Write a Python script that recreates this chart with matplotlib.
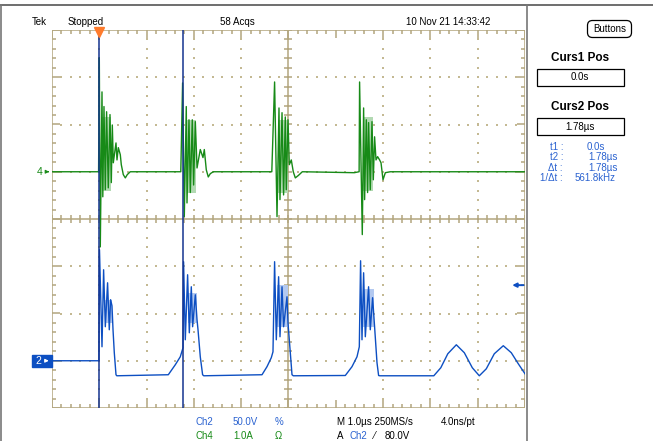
import numpy as np
import matplotlib.pyplot as plt
from matplotlib.patches import Rectangle, FancyBboxPatch
from matplotlib.collections import LineCollection

plt.rcParams['font.family'] = ['Liberation Sans', 'DejaVu Sans']

# Ch2 voltage trace (time in us, volts)
ch2_t = [-1.0, -0.015, -0.008, 0.004, 0.057, 0.091, 0.127, 0.175, 0.211, 0.239, 0.268, 0.290,
         0.317, 0.353, 0.370, 1.459, 1.607, 1.712, 1.770, 1.782, 1.818, 1.867, 1.903, 1.945,
         1.973, 2.030, 2.066, 2.087, 2.135, 2.184, 2.209, 3.440, 3.545, 3.636, 3.672, 3.706,
         3.742, 3.791, 3.820, 3.863, 3.896, 3.968, 3.989, 4.017, 4.074, 4.101, 5.201, 5.342,
         5.448, 5.497, 5.524, 5.554, 5.588, 5.624, 5.693, 5.729, 5.778, 5.820, 5.871, 5.905,
         5.930, 7.072, 7.220, 7.368, 7.548, 7.717, 7.886, 8.034, 8.182, 8.351, 8.541, 8.710,
         8.858, 9.0]
ch2_v = [0.0, 0.0, 0.0, 117.5, 14.8, 96.3, 36.0, 82.5, 32.8, 64.6, 58.2, 32.8,
         8.5, -14.8, -15.9, -14.8, -4.2, 4.2, 13.8, 104.8, 22.2, 91.0, 29.6, 78.3,
         36.0, 69.8, 43.4, 32.8, 4.2, -14.8, -15.9, -14.8, -6.3, 3.2, 9.5, 104.8,
         22.2, 88.9, 25.4, 78.3, 36.0, 67.7, 40.2, 22.2, -14.8, -15.9, -15.6, -6.3,
         4.2, 14.8, 105.8, 22.2, 93.1, 25.4, 78.3, 32.8, 66.7, 36.0, -2.1, -15.6,
         -15.9, -15.9, -7.4, 7.4, 16.9, 8.5, -7.4, -15.9, -8.5, 7.4, 15.9, 8.5,
         -3.2, -13.8]

# Ch4 current trace (time in us, amps)
ch4_t = [-1.0, -0.015, 0.0, 0.021, 0.057, 0.074, 0.099, 0.127, 0.154, 0.190, 0.226, 0.254,
         0.275, 0.296, 0.353, 0.374, 0.402, 0.444, 0.465, 0.507, 0.550, 0.592, 0.655,
         1.723, 1.761, 1.797, 1.839, 1.854, 1.896, 1.924, 1.966, 1.994, 2.030, 2.066, 2.135,
         2.192, 2.220, 2.262, 2.304, 2.347, 2.410,
         3.647, 3.706, 3.757, 3.799, 3.820, 3.863, 3.896, 3.932, 3.953, 3.989, 4.017, 4.059,
         4.101, 4.144, 4.207, 4.292,
         5.391, 5.493, 5.503, 5.560, 5.588, 5.609, 5.645, 5.672, 5.693, 5.729, 5.765, 5.793,
         5.820, 5.850, 5.884, 5.926, 5.956, 5.998, 6.047, 6.152, 9.0]
ch4_a = [0.0, 0.0, 2.41, -1.59, 1.69, -0.53, 1.38, -0.38, 1.27, -0.34, 1.21, -0.23,
         0.99, 0.19, 0.61, 0.25, 0.51, 0.36, 0.15, -0.06, -0.13, -0.06, 0.0,
         0.0, 1.88, -0.95, 1.38, -0.66, 1.10, -0.44, 1.10, -0.28, 1.06, 0.08, 0.47,
         0.30, 0.47, 0.04, -0.11, -0.04, 0.0,
         0.0, 1.90, -0.95, 1.35, -0.59, 1.25, -0.49, 1.16, -0.38, 1.10, 0.15, 0.25,
         0.0, -0.13, -0.08, 0.0,
         -0.02, 0.0, 1.90, -1.33, 1.35, -0.59, 1.10, -0.44, 1.04, -0.38, 1.06, -0.17,
         0.74, 0.25, 0.32, 0.25, 0.19, -0.17, -0.02, 0.0, 0.0]

# persistence haze inside each ringing burst: t start, t end, top, bottom
ch2_haze_t0 = [0.120, 1.875, 3.760, 5.575]
ch2_haze_t1 = [0.260, 2.070, 3.990, 5.800]
ch2_haze_hi = [64.0, 72.0, 80.0, 76.0]
ch2_haze_lo = [40.0, 40.0, 36.0, 36.0]
ch4_haze_t0 = [0.060, 1.850, 3.770, 5.580]
ch4_haze_t1 = [0.250, 2.050, 3.980, 5.790]
ch4_haze_hi = [1.15, 1.10, 1.10, 1.15]
ch4_haze_lo = [-0.40, -0.45, -0.45, -0.40]

ch2_scale, ch2_pos = 50.0, -3.0   # V/div, divisions
ch4_scale, ch4_pos = 1.0, 1.0     # A/div, divisions
trig_level = 80.0
cursors = [0.0, 1.78]

BLUE = '#0d4fc2'
BLUE_L = '#b3c9f0'
GREEN = '#178a17'
GREEN_L = '#b2d9b2'
GRAT = '#b3a67e'
TXT_BLUE = '#2a62d0'

W, H = 653, 441
gx0, gx1, gy0, gy1 = 52, 525, 30, 408
fig = plt.figure(figsize=(W / 100, H / 100), dpi=100)

# full-figure overlay in pixel coordinates for the screen furniture
ov = fig.add_axes([0, 0, 1, 1], zorder=0)
ov.set_xlim(0, W)
ov.set_ylim(H, 0)
ov.axis('off')
ov.plot([0, W], [4.5, 4.5], color='#555555', lw=1.2)
ov.plot([0.5, 0.5], [4.5, H], color='#777777', lw=1.2)
ov.plot([527, 527], [4.5, H], color='#777777', lw=1.2)

ax = fig.add_axes([gx0 / W, 1 - gy1 / H, (gx1 - gx0) / W, (gy1 - gy0) / H], zorder=1)
ax.set_xlim(-1, 9)
ax.set_ylim(-4, 4)
ax.axis('off')

px = 10 / (gx1 - gx0)
py = 8 / (gy1 - gy0)

# graticule: dotted division lines
dx, dy = [], []
for xi in range(0, 9):
    if xi - 1 == 4:
        continue
    for yk in np.arange(-4 + 0.2, 4, 0.2):
        dx.append(xi)
        dy.append(yk)
for yi in range(-3, 4):
    if yi == 0:
        continue
    for xk in np.arange(-1 + 0.2, 9, 0.2):
        dx.append(xk)
        dy.append(yi)
ax.scatter(dx, dy, s=1.2, marker='s', color='#c4b993', lw=0, zorder=1)

segs = []
# center cross with ticks
segs.append([(-1, 0), (9, 0)])
segs.append([(4, -4), (4, 4)])
for xk in np.arange(-1, 9.001, 0.2):
    segs.append([(xk, -4 * py), (xk, 4 * py)])
for yk in np.arange(-4, 4.001, 0.2):
    segs.append([(4 - 4 * px, yk), (4 + 4 * px, yk)])
# border with inward ticks
segs += [[(-1, -4), (9, -4)], [(-1, 4), (9, 4)], [(-1, -4), (-1, 4)], [(9, -4), (9, 4)]]
for xk in np.arange(-1, 9.001, 0.2):
    L = 8 if abs(xk - round(xk)) < 1e-6 else 4
    segs.append([(xk, 4), (xk, 4 - L * py)])
    segs.append([(xk, -4), (xk, -4 + L * py)])
for yk in np.arange(-4, 4.001, 0.2):
    L = 8 if abs(yk - round(yk)) < 1e-6 else 4
    segs.append([(-1, yk), (-1 + L * px, yk)])
    segs.append([(9, yk), (9 - L * px, yk)])
ax.add_collection(LineCollection(segs, colors=GRAT, linewidths=1.1, zorder=2))

# traces
for t0, t1, hi, lo in zip(ch2_haze_t0, ch2_haze_t1, ch2_haze_hi, ch2_haze_lo):
    ax.fill_between([t0, t1], hi / ch2_scale + ch2_pos, lo / ch2_scale + ch2_pos,
                    color=BLUE_L, lw=0, zorder=3)
for t0, t1, hi, lo in zip(ch4_haze_t0, ch4_haze_t1, ch4_haze_hi, ch4_haze_lo):
    ax.fill_between([t0, t1], hi / ch4_scale + ch4_pos, lo / ch4_scale + ch4_pos,
                    color=GREEN_L, lw=0, zorder=3)
ax.plot(ch4_t, np.array(ch4_a) / ch4_scale + ch4_pos, color=GREEN, lw=1.0, zorder=4)
ax.plot(ch2_t, np.array(ch2_v) / ch2_scale + ch2_pos, color=BLUE, lw=1.0, zorder=5)

# cursors and trigger position
for c in cursors:
    ax.axvline(c, color='#15348f', lw=1.1, zorder=6)
ax.plot(0, 4 - 1.5 * py, marker='v', color='#ff7b2c', markersize=7, mec='#ff7b2c',
        clip_on=False, zorder=7)

# channel ground markers
ax.text(-1.27, ch4_pos, '4', color=GREEN, fontsize=7.5, ha='center', va='center',
        clip_on=False)
ax.annotate('', xy=(-1.0, ch4_pos), xytext=(-1.15, ch4_pos), annotation_clip=False,
            arrowprops=dict(arrowstyle='-|>', color=GREEN, lw=0.8, mutation_scale=5))
ax.add_patch(Rectangle((-1.42, ch2_pos - 6 * py), 0.42, 12 * py, color=BLUE,
                       clip_on=False, zorder=6))
ax.text(-1.28, ch2_pos, '2', color='white', fontsize=7.5, ha='center', va='center',
        clip_on=False, zorder=7)
ax.annotate('', xy=(-1.01, ch2_pos), xytext=(-1.19, ch2_pos), annotation_clip=False,
            arrowprops=dict(arrowstyle='-|>', color='white', lw=0.8, mutation_scale=5),
            zorder=7)
# trigger level
ax.annotate('', xy=(8.73, trig_level / ch2_scale + ch2_pos),
            xytext=(8.97, trig_level / ch2_scale + ch2_pos), annotation_clip=False,
            arrowprops=dict(arrowstyle='-|>', color=BLUE, lw=1.4, mutation_scale=6,
                            shrinkA=0, shrinkB=0), zorder=7)

# header
fs = 7
ov.text(32, 22, 'Tek', fontsize=fs, va='center')
ov.text(68, 22, 'Stopped', fontsize=fs, va='center')
ov.text(237, 22, '58 Acqs', fontsize=fs, va='center', ha='center')
ov.text(448, 22, '10 Nov 21 14:33:42', fontsize=fs, va='center', ha='center')
ov.add_patch(FancyBboxPatch((589, 22), 41, 14, boxstyle='round,pad=1.5,rounding_size=5',
                            fc='white', ec='black', lw=0.9))
ov.text(609.5, 29, 'Buttons', fontsize=fs, va='center', ha='center')

# cursor side panel
ov.text(580, 58, 'Curs1 Pos', fontsize=8.5, fontweight='bold', ha='center', va='center')
ov.add_patch(Rectangle((537, 69), 87, 17, fc='white', ec='black', lw=0.9))
ov.text(580, 77.5, '0.0s', fontsize=fs, ha='center', va='center')
ov.text(580, 107, 'Curs2 Pos', fontsize=8.5, fontweight='bold', ha='center', va='center')
ov.add_patch(Rectangle((537, 118), 87, 17, fc='white', ec='black', lw=0.9))
ov.text(580, 126.5, '1.78µs', fontsize=fs, ha='center', va='center')

rd_lab = ['t1 :', 't2 :', 'Δt :', '1/Δt :']
rd_val = ['0.0s', '1.78µs', '1.78µs', '561.8kHz']
rd_x = [587, 588, 588, 575]
for i, (lab, val, xv) in enumerate(zip(rd_lab, rd_val, rd_x)):
    y = 147 + i * 10.3
    ov.text(563, y, lab, fontsize=fs, color=TXT_BLUE, ha='right', va='center')
    ov.text(xv, y, val, fontsize=fs, color=TXT_BLUE, ha='left', va='center')

# footer
ov.text(195, 422, 'Ch2', fontsize=fs, color=TXT_BLUE, va='center')
ov.text(233, 422, '50.0V', fontsize=fs, color=TXT_BLUE, va='center')
ov.text(275, 422, '%', fontsize=fs, color=TXT_BLUE, va='center')
ov.text(195, 436, 'Ch4', fontsize=fs, color=GREEN, va='center')
ov.text(233, 436, '1.0A', fontsize=fs, color=GREEN, va='center')
ov.text(275, 436, 'Ω', fontsize=fs, color=GREEN, va='center')
ov.text(337, 422, 'M 1.0µs 250MS/s', fontsize=fs, va='center')
ov.text(441, 422, '4.0ns/pt', fontsize=fs, va='center')
ov.text(337, 436, 'A', fontsize=fs, va='center')
ov.text(349, 436, 'Ch2', fontsize=fs, color=TXT_BLUE, va='center')
ov.text(374, 436, '⁄', fontsize=fs, va='center')
ov.text(385, 436, '80.0V', fontsize=fs, va='center')

fig.savefig('out.png', dpi=100)
